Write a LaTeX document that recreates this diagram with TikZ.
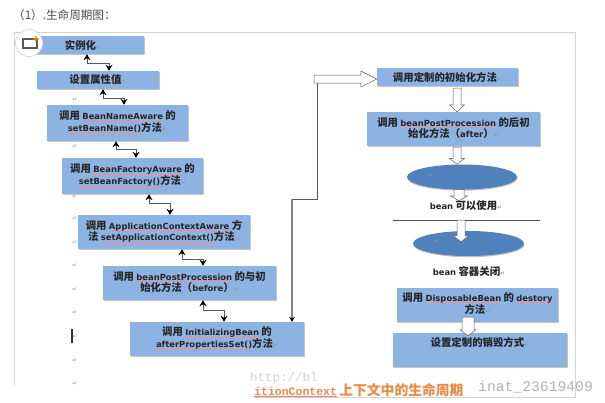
\documentclass[tikz,border=0pt]{standalone}
\usepackage{fontspec}
\usepackage{xcolor}
\setmainfont{Noto Sans CJK SC}
\newfontfamily\latf{DejaVu Sans}
\newfontfamily\monof{Liberation Mono}
\usetikzlibrary{calc,shadows,arrows.meta,shapes.geometric}
\definecolor{boxblue}{HTML}{8DB3E2}
\definecolor{ellblue}{HTML}{4F81BD}
\definecolor{frameg}{HTML}{D4D4D4}
\definecolor{orangetxt}{HTML}{EC8A45}
\newsavebox\sqbox
\newcommand\lat[1]{{\latf\fontsize{8.4}{11}\selectfont #1}}
\newcommand\sq[1]{\sbox\sqbox{\lat{#1}}\leavevmode\rlap{\textcolor{red!45!white}{\rule[-1.6pt]{\wd\sqbox}{0.4pt}}}\usebox\sqbox}
\newcommand\ret{{\latf\fontsize{6}{6}\selectfont\textcolor{gray!80}{↵}}}
\newcommand\two[3][5pt]{\raisebox{#1}{\fontsize{10.4}{11.4}\selectfont\begin{tabular}{@{}c@{}}#2\\[-1pt]#3\end{tabular}}}
\tikzset{
  x=1pt,y=-1pt,
  bx/.style={fill=boxblue,inner sep=0pt,font=\fontsize{10.4}{11.4}\selectfont\bfseries,text=black!85,
    copy shadow={shadow xshift=1pt,shadow yshift=-1pt,fill=gray!45,draw=none,opacity=1}},
  ell/.style={fill=ellblue,ellipse,inner sep=0pt,
    copy shadow={shadow xshift=0.5pt,shadow yshift=-1.2pt,fill=gray!50,draw=none,opacity=1}},
  elbow/.style={draw=black!65,line width=1pt,{Stealth[length=6pt,width=7pt,black]}-{Stealth[length=6pt,width=7pt,black]}},
  retm/.style={inner sep=0pt},
  blockdown/.style args={#1/#2/#3}{draw=black!65,fill=white,line width=.5pt,
    to path={let \p1=(\tikztostart),\p2=(\tikztotarget) in
      (\x1-#1,\y1)--(\x1+#1,\y1)--(\x1+#1,\y2+#3)--(\x1+#2,\y2+#3)--(\x1,\y2)--(\x1-#2,\y2+#3)--(\x1-#1,\y2+#3)--cycle}},
  blockright/.style args={#1/#2/#3}{draw=black!65,fill=white,line width=.5pt,
    to path={let \p1=(\tikztostart),\p2=(\tikztotarget) in
      (\x1,\y2-#1)--(\x2-#3,\y2-#1)--(\x2-#3,\y2-#2)--(\x2,\y2)--(\x2-#3,\y2+#2)--(\x2-#3,\y2+#1)--(\x1,\y2+#1)--cycle}},
  lab/.style={inner sep=0pt,font=\fontsize{10.4}{11}\selectfont\bfseries,text=black!85},
}
\begin{document}
\begin{tikzpicture}
\useasboundingbox[fill=white] (0,0) rectangle (605,402);
% page frame
\coordinate (fa) at (14,385); \coordinate (fb) at (14,32); \coordinate (fc) at (575,32);
\coordinate (fd) at (575,397); \coordinate (fe) at (254,397);
\draw[frameg,line width=1pt] (fa)--(fb)--(fc)--(fd)--(fe);
\node[anchor=west,inner sep=0pt,text=black!70,font=\fontsize{11.6}{12}\selectfont] (title) at (13,15) {（1）.生命周期图：};
% return marks
\foreach \i/\yy in {1/100,2/147,3/197,4/219,5/243,6/266,7/290,8/313,9/337,10/361,11/384}
  \node[retm] (r\i) at (75,\yy) {\ret};
\node[fill=black!80,minimum width=1.4pt,minimum height=14pt,inner sep=0pt] (cursor) at (72,336) {};
% left column
\node[bx,minimum width=122pt,minimum height=18pt] (a1) at (83,45) {\raisebox{1pt}{实例化\ret}};
\node[bx,minimum width=122pt,minimum height=18pt] (a2) at (98,80) {\raisebox{1pt}{设置属性值\ret}};
\node[bx,minimum width=141pt,minimum height=36pt] (a3) at (117.5,123) {\two{调用 \sq{BeanNameAware} 的}{\sq{setBeanName()}方法\ret}};
\node[bx,minimum width=141pt,minimum height=36pt] (a4) at (132.5,176) {\two{调用 \sq{BeanFactoryAware} 的}{\sq{setBeanFactory()}方法\ret}};
\node[bx,minimum width=172pt,minimum height=34pt] (a5) at (164,232) {\two{调用 \sq{ApplicationContextAware} 方}{法 \sq{setApplicationContext()}方法\ret}};
\node[bx,minimum width=173pt,minimum height=34pt] (a6) at (189.5,283) {\two{调用 \sq{beanPostProcession} 的与初}{始化方法（\lat{before}）\ret}};
\node[bx,minimum width=174pt,minimum height=34pt] (a7) at (217,339) {\two{调用 \sq{InitializingBean} 的}{\sq{afterPropertiesSet()}方法\ret}};
% right column
\node[bx,minimum width=141pt,minimum height=18pt] (b1) at (447.5,77) {\raisebox{1pt}{调用定制的初始化方法\ret}};
\node[bx,minimum width=173pt,minimum height=34pt] (b2) at (453.5,129) {\two{调用 \sq{beanPostProcession} 的后初}{始化方法（\lat{after}）\ret}};
\node[ell,minimum width=110pt,minimum height=25pt] (e1) at (462,177) {};
\node[retm] (re1) at (431,176) {\ret};
\node[lab] (l1) at (466,206) {\lat{bean} 可以使用\ret};
\coordinate (sepL) at (393,220); \coordinate (sepR) at (540,220);
\draw[black!70,line width=.6pt] (sepL)--(sepR);
\node[ell,minimum width=111pt,minimum height=25pt] (e2) at (468.5,243.5) {};
\node[retm] (re2) at (437,242) {\ret};
\node[lab] (l2) at (469,271) {\lat{bean} 容器关闭\ret};
\node[bx,minimum width=161pt,minimum height=34pt] (d1) at (477.5,305) {\two{调用 \sq{DisposableBean} 的 \sq{destory}}{方法\ret}};
\node[bx,minimum width=174pt,minimum height=34pt] (d2) at (480,350) {\raisebox{16pt}{设置定制的销毁方式\ret}};
% elbow connectors
\draw[elbow] ([xshift=4pt]a1.south) -- ++(0,9) -| ([xshift=11pt]a2.north);
\draw[elbow] ([xshift=5pt]a2.south) -- ++(0,9) -| ([xshift=6.5pt]a3.north);
\draw[elbow] ([xshift=-1.5pt]a3.south) -- ++(0,8) -| ([xshift=3.5pt]a4.north);
\draw[elbow] ([xshift=16.5pt]a4.south) -- ++(0,9) -| ([xshift=6pt]a5.north);
\draw[elbow] ([xshift=18pt]a5.south) -- ++(0,10) -| ([xshift=13.5pt]a6.north);
\draw[elbow] ([xshift=13.5pt]a6.south) -- ++(0,10) -| ([xshift=7pt]a7.north);
% long connector to the right column
\coordinate (ra) at (317,79);
\coordinate (knee) at (317,199);
\coordinate (tgt) at ([xshift=75pt]a7.north);
\coordinate (shaftstart) at (314,79);
\draw[black!65,line width=.7pt] (ra) -- (knee) -- (knee -| tgt);
\draw[black!50,line width=1.5pt,-{Stealth[length=5pt,width=6pt,black]}] (knee -| tgt) -- (tgt);
\path[blockright=4pt/8pt/16pt] (shaftstart) to ([yshift=-2pt]b1.west);
% block arrows
\path[blockdown=4pt/7.5pt/7pt] ([xshift=9.5pt,yshift=-2pt]b1.south) to (b2.north -| b1.south);
\path[blockdown=4pt/7.5pt/6pt] ([xshift=3.5pt,yshift=-1pt]b2.south) to (e1.north);
\path[blockdown=5pt/8.5pt/5pt] ([xshift=-3pt]e1.south) to (l1.north);
\path[blockdown=4pt/8pt/6pt] ([xshift=68pt]sepL) to ([yshift=-11pt]e2.north);
\path[blockdown=6pt/8pt/6pt] ([xshift=-9.5pt,yshift=5pt]d1.south) to ([yshift=-3pt]d2.north);
% icon
\node[circle,fill=white,draw=gray!30,line width=.8pt,minimum size=27pt,inner sep=0pt] (icon) at (29,43) {};
\node[draw=black!65,line width=1.8pt,minimum width=14pt,minimum height=9pt,inner sep=0pt] (iconr) at (30,43.5) {};
\node[inner sep=0pt,text=orange,font=\fontsize{11}{11}\selectfont\bfseries] (iconp) at (36,39.5) {+};
% watermark and caption
\node[anchor=west,inner sep=0pt,text=gray!35,font=\monof\fontsize{12.5}{13}\selectfont] (wm1) at (250,378) {http://bl};
\node[anchor=west,inner sep=0pt,text=gray!60,font=\monof\fontsize{14.7}{15}\selectfont] (wm2) at (478,387) {inat\_23619409};
\node[anchor=west,inner sep=0pt,text=orangetxt,font=\fontsize{13.8}{14}\selectfont\bfseries] (cap) at (254,390)
  {\sbox\sqbox{\monof\fontsize{11.5}{12}\selectfont\bfseries itionContext}\rlap{\textcolor{red!55!white}{\rule[-2pt]{\wd\sqbox}{0.7pt}}}\usebox\sqbox\,上下文中的生命周期};
\end{tikzpicture}
\end{document}
